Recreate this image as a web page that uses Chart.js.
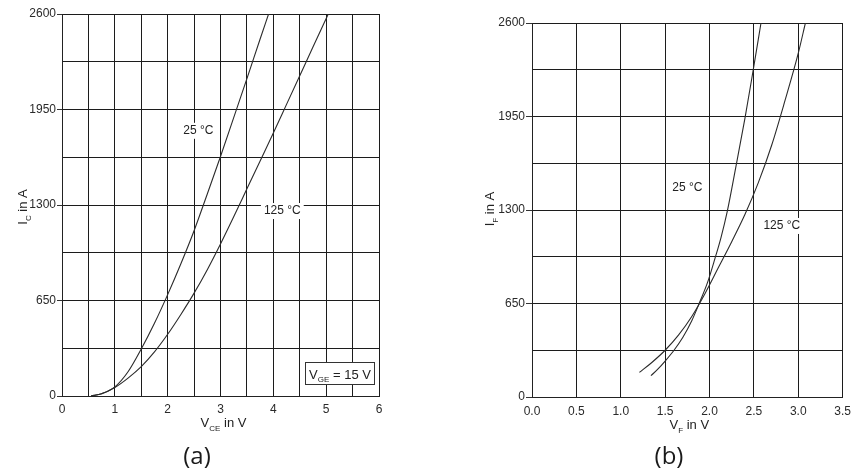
<!DOCTYPE html>
<html>
<head>
<meta charset="utf-8">
<script src="https://cdn.jsdelivr.net/npm/chart.js@4/dist/chart.umd.min.js"></script>
<style>
  html, body { margin: 0; padding: 0; background: #fff; }
  #wrap { position: relative; width: 858px; height: 475px; overflow: hidden; background: #fff; }
  canvas { position: absolute; top: 0; }
</style>
</head>
<body>
<div id="wrap">
  <canvas id="cA" width="429" height="475" style="left:0;width:429px;height:475px"></canvas>
  <canvas id="cB" width="429" height="475" style="left:429px;width:429px;height:475px"></canvas>
</div>
<script>
// ---------- DATA ----------
// (a) IGBT output characteristic, V_GE = 15 V
const vce25  = [0.55, 0.75, 1.0, 1.25, 1.5, 1.75, 2.0, 2.25, 2.5, 2.75, 3.0, 3.25, 3.5, 3.75, 3.91];
const ic25   = [0, 16, 62, 165, 320, 495, 690, 900, 1125, 1375, 1630, 1895, 2160, 2430, 2600];
const vce125 = [0.55, 0.75, 1.0, 1.25, 1.5, 1.75, 2.0, 2.25, 2.5, 2.75, 3.0, 3.25, 3.5, 3.75, 4.0, 4.25, 4.5, 4.75, 5.04];
const ic125  = [0, 15, 58, 122, 200, 300, 420, 555, 700, 860, 1035, 1220, 1410, 1600, 1790, 1985, 2180, 2375, 2600];
// (b) diode forward characteristic
const vf25   = [1.34, 1.42, 1.5, 1.6, 1.7, 1.8, 1.89, 1.98, 2.06, 2.13, 2.2, 2.3, 2.4, 2.49, 2.58];
const if25   = [148, 195, 250, 325, 415, 530, 660, 800, 960, 1110, 1290, 1610, 1940, 2265, 2600];
const vf125  = [1.21, 1.35, 1.5, 1.65, 1.8, 1.95, 2.1, 2.25, 2.4, 2.55, 2.7, 2.85, 3.0, 3.08];
const if125  = [171, 240, 325, 430, 560, 720, 900, 1080, 1270, 1490, 1750, 2060, 2390, 2600];
// tick labels
const yTickLabels = [0, 650, 1300, 1950, 2600];
const xTicksA = [0, 1, 2, 3, 4, 5, 6];
const xTicksB = ['0.0', '0.5', '1.0', '1.5', '2.0', '2.5', '3.0', '3.5'];
const seriesNames = ['25 °C', '125 °C'];

// ---------- helpers ----------
const FONT = '"Liberation Sans", Arial, sans-serif';
const INK = '#222';
function pts(xs, ys) { return xs.map((x, i) => ({ x: x, y: ys[i] })); }

function richWidth(ctx, parts, size) {
  let w = 0;
  parts.forEach(p => {
    ctx.font = (p.sub ? Math.round(size * 0.62) : size) + 'px ' + FONT;
    w += ctx.measureText(p.t).width;
  });
  return w;
}
function drawRich(ctx, parts, x, y, size, align) {
  const w = richWidth(ctx, parts, size);
  let cx = align === 'center' ? x - w / 2 : (align === 'right' ? x - w : x);
  ctx.textAlign = 'left';
  ctx.textBaseline = 'alphabetic';
  parts.forEach(p => {
    ctx.font = (p.sub ? Math.round(size * 0.62) : size) + 'px ' + FONT;
    ctx.fillText(p.t, cx, p.sub ? y + size * 0.28 : y);
    cx += ctx.measureText(p.t).width;
  });
  return w;
}

const decor = {
  id: 'decor',
  afterDraw(chart, args, o) {
    const ctx = chart.ctx, ca = chart.chartArea;
    const xs = chart.scales.x, ys = chart.scales.y;
    ctx.save();
    ctx.fillStyle = INK;
    // x title
    drawRich(ctx, o.xTitle, (ca.left + ca.right) / 2 + o.xTitleDx, o.xTitleY, 13, 'center');
    // y title (rotated)
    ctx.save();
    ctx.translate(o.yTitleX, o.yTitleY);
    ctx.rotate(-Math.PI / 2);
    drawRich(ctx, o.yTitle, 0, 0, 13, 'center');
    ctx.restore();
    // curve labels with white background
    o.labels.forEach(l => {
      const px = xs.getPixelForValue(l.x), py = ys.getPixelForValue(l.y);
      ctx.font = '12px ' + FONT;
      const w = ctx.measureText(l.t).width;
      ctx.fillStyle = '#fff';
      ctx.fillRect(px - w / 2 - 3, py - 8, w + 6, 16);
      ctx.fillStyle = INK;
      ctx.textAlign = 'center';
      ctx.textBaseline = 'middle';
      ctx.fillText(l.t, px, py);
    });
    // boxed condition
    if (o.box) {
      const b = o.box;
      const x1 = Math.round(xs.getPixelForValue(b.x1)) + 0.5, x2 = Math.round(xs.getPixelForValue(b.x2)) + 0.5;
      const y1 = Math.round(ys.getPixelForValue(b.y1)) + 0.5, y2 = Math.round(ys.getPixelForValue(b.y2)) + 0.5;
      ctx.fillStyle = '#fff';
      ctx.fillRect(x1, y1, x2 - x1, y2 - y1);
      ctx.strokeStyle = '#333';
      ctx.lineWidth = 1;
      ctx.strokeRect(x1, y1, x2 - x1, y2 - y1);
      ctx.fillStyle = INK;
      drawRich(ctx, b.parts, (x1 + x2) / 2, (y1 + y2) / 2 + 5, 13, 'center');
    }
    // panel caption
    ctx.fillStyle = '#1a1a1a';
    ctx.font = '24px "Open Sans", ' + FONT;
    ctx.textAlign = 'center';
    ctx.textBaseline = 'middle';
    ctx.fillText(o.caption, o.capX, o.capY);
    ctx.restore();
  }
};

function makeChart(id, cfg) {
  const lineStyle = { borderColor: '#2b2b2b', borderWidth: 1.1, pointRadius: 0, fill: false,
                      cubicInterpolationMode: 'monotone' };
  return new Chart(document.getElementById(id), {
    type: 'line',
    data: { datasets: [
      Object.assign({ label: seriesNames[0], data: pts(cfg.x25, cfg.y25) }, lineStyle),
      Object.assign({ label: seriesNames[1], data: pts(cfg.x125, cfg.y125) }, lineStyle)
    ]},
    options: {
      responsive: false, animation: false, devicePixelRatio: 1,
      layout: { padding: cfg.padding },
      plugins: { legend: { display: false }, tooltip: { enabled: false }, decor: cfg.decor },
      scales: {
        x: {
          type: 'linear', min: 0, max: cfg.xMax,
          afterFit: s => { s.height = cfg.xAxisH; },
          border: { color: INK, width: 1 },
          grid: { color: '#1c1c1c', lineWidth: 1, drawTicks: false },
          ticks: {
            stepSize: 0.5, autoSkip: false, maxRotation: 0, padding: cfg.xTickPad,
            color: '#2a2a2a', font: { family: FONT, size: 12 },
            callback: cfg.xCallback
          }
        },
        y: {
          min: 0, max: 2600,
          afterFit: s => { s.width = cfg.yAxisW; },
          border: { color: INK, width: 1 },
          grid: {
            color: '#1c1c1c', lineWidth: 1, tickLength: cfg.tickLen,
            tickColor: c => (c.tick && yTickLabels.includes(c.tick.value)) ? '#333' : 'rgba(0,0,0,0)'
          },
          ticks: {
            stepSize: 325, autoSkip: false, padding: 1,
            color: '#2a2a2a', font: { family: FONT, size: 12 },
            callback: v => yTickLabels.includes(v) ? String(v) : ''
          }
        }
      }
    },
    plugins: [decor]
  });
}

makeChart('cA', {
  x25: vce25, y25: ic25, x125: vce125, y125: ic125, xMax: 6,
  padding: { left: 0, top: 14, right: 50, bottom: 0 },
  yAxisW: 62, xAxisH: 79, xTickPad: 6, tickLen: 5,
  xCallback: v => xTicksA.includes(v) ? String(v) : '',
  decor: {
    xTitle: [{ t: 'V' }, { t: 'CE', sub: true }, { t: ' in V' }], xTitleDx: 3, xTitleY: 427,
    yTitle: [{ t: 'I' }, { t: 'C', sub: true }, { t: ' in A' }], yTitleX: 27, yTitleY: 207,
    labels: [{ x: 2.58, y: 1805, t: seriesNames[0] }, { x: 4.17, y: 1259, t: seriesNames[1] }],
    box: { x1: 4.6, x2: 5.91, y1: 231, y2: 82, parts: [{ t: 'V' }, { t: 'GE', sub: true }, { t: ' = 15 V' }] },
    caption: '(a)', capX: 197, capY: 457
  }
});

makeChart('cB', {
  x25: vf25, y25: if25, x125: vf125, y125: if125, xMax: 3.5,
  padding: { left: 0, top: 23, right: 11, bottom: 0 },
  yAxisW: 103, xAxisH: 78, xTickPad: 7, tickLen: 6,
  xCallback: v => xTicksB[Math.round(v * 2)] !== undefined && Math.abs(v * 2 - Math.round(v * 2)) < 1e-6 ? xTicksB[Math.round(v * 2)] : '',
  decor: {
    xTitle: [{ t: 'V' }, { t: 'F', sub: true }, { t: ' in V' }], xTitleDx: 2, xTitleY: 429,
    yTitle: [{ t: 'I' }, { t: 'F', sub: true }, { t: ' in A' }], yTitleX: 65, yTitleY: 209,
    labels: [{ x: 1.75, y: 1453, t: seriesNames[0] }, { x: 2.815, y: 1189, t: seriesNames[1] }],
    box: null,
    caption: '(b)', capX: 240, capY: 457
  }
});
</script>
</body>
</html>
